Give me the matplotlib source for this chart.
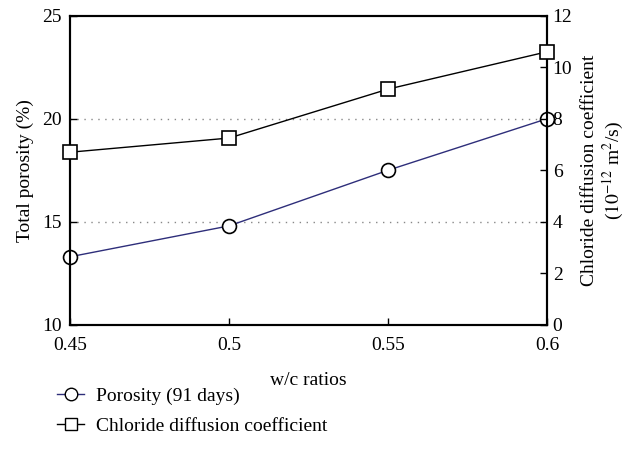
import matplotlib
matplotlib.use("Agg")
import matplotlib.pyplot as plt
from matplotlib.lines import Line2D

plt.rcParams['font.family'] = ['Liberation Serif', 'DejaVu Serif']
plt.rcParams['mathtext.fontset'] = 'stix'
plt.rcParams['font.size'] = 14

wc = [0.45, 0.5, 0.55, 0.6]
porosity = [13.3, 14.8, 17.5, 20.0]
chloride = [6.7, 7.25, 9.15, 10.6]

fig = plt.figure(figsize=(6.31, 4.62), dpi=100)
ax = fig.add_axes([0.111, 0.297, 0.756, 0.669])
ax2 = ax.twinx()

for y in [15, 20]:
    ax.axhline(y, color='#888888', ls=(0, (1, 4)), lw=1, zorder=0)

ax.plot(wc, porosity, color='#2e2e7a', lw=1, marker='o', ms=10,
        mfc='white', mec='black', mew=1.2, clip_on=False, zorder=3)
ax2.plot(wc, chloride, color='black', lw=1, marker='s', ms=10,
         mfc='white', mec='black', mew=1.2, clip_on=False, zorder=3)

ax.set_xlim(0.45, 0.6)
ax.set_ylim(10, 25)
ax2.set_ylim(0, 12)
ax.set_xticks([0.45, 0.5, 0.55, 0.6])
ax.set_xticklabels(['0.45', '0.5', '0.55', '0.6'])
ax.set_yticks([10, 15, 20, 25])
ax2.set_yticks([0, 2, 4, 6, 8, 10, 12])

ax.tick_params(axis='x', direction='in', length=5, width=1, top=False, pad=9)
ax.tick_params(axis='y', direction='in', length=5, width=1, pad=6)
ax2.tick_params(direction='in', length=5, width=1, pad=4)
for a in (ax, ax2):
    for s in a.spines.values():
        s.set_linewidth(1.5)

ax.set_xlabel('w/c ratios', labelpad=13)
ax.set_ylabel('Total porosity (%)', labelpad=6)
ax2.set_ylabel('Chloride diffusion coefficient\n($10^{-12}$ m$^2$/s)', labelpad=6)

handles = [
    Line2D([], [], color='#2e2e7a', lw=1, marker='o', ms=9, mfc='white', mec='black'),
    Line2D([], [], color='black', lw=1, marker='s', ms=9, mfc='white', mec='black'),
]
fig.legend(handles, ['Porosity (91 days)', 'Chloride diffusion coefficient'],
           loc='upper left', bbox_to_anchor=(0.063, 0.2), frameon=False,
           handlelength=1.4, handletextpad=0.6, labelspacing=0.65, fontsize=14)

fig.savefig('out.png', dpi=100)
